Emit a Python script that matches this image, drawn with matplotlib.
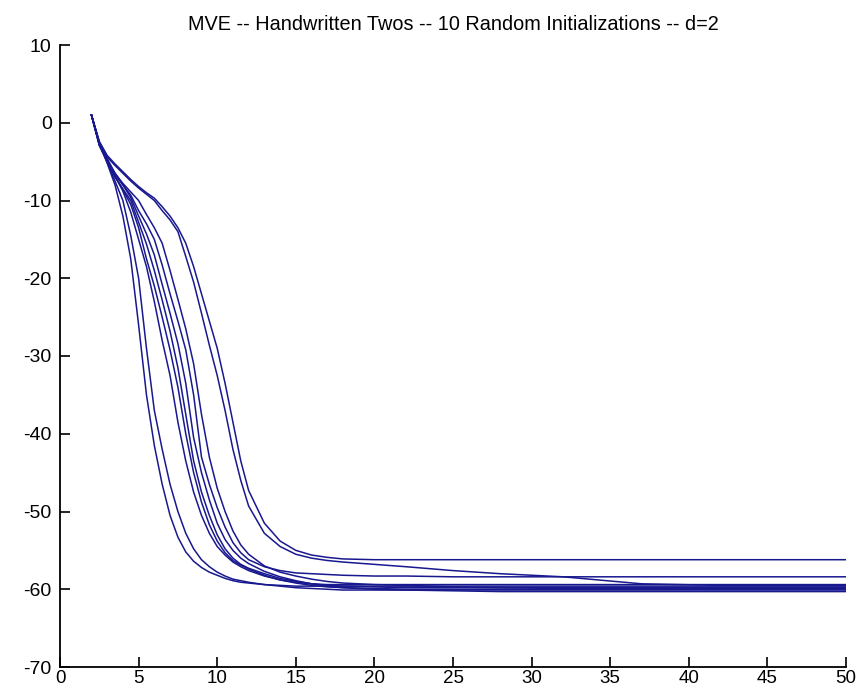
import matplotlib
matplotlib.use("Agg")
import matplotlib.pyplot as plt

title = "MVE -- Handwritten Twos -- 10 Random Initializations -- d=2"

x = [2, 2.5, 3, 3.5, 4, 4.5, 5, 5.5, 6, 6.5, 7, 7.5, 8, 8.5, 9, 9.5, 10, 10.5,
     11, 11.5, 12, 13, 14, 15, 16, 17, 18, 20, 22, 25, 28, 32, 37, 42, 50]

run_a = [1.0, -2.5, -5.2, -8.0, -12.0, -17.5, -26.0, -35.0, -41.5, -46.5, -50.5, -53.3,
         -55.2, -56.4, -57.2, -57.8, -58.2, -58.6, -58.9, -59.1, -59.2, -59.4, -59.5,
         -59.6, -59.6, -59.6, -59.6, -59.6, -59.6, -59.6, -59.6, -59.6, -59.6, -59.6, -59.6]
run_b = [1.0, -2.6, -5.0, -7.5, -10.0, -14.5, -20.0, -29.0, -37.0, -42.0, -46.5, -50.0,
         -52.8, -54.8, -56.2, -57.1, -57.8, -58.3, -58.7, -58.9, -59.1, -59.4, -59.6,
         -59.8, -59.9, -60.0, -60.1, -60.1, -60.1, -60.1, -60.1, -60.1, -60.1, -60.1, -60.1]
run_c = [1.0, -2.7, -4.8, -6.8, -8.8, -11.5, -15.0, -18.5, -23.0, -28.0, -32.5, -38.5,
         -43.5, -47.5, -50.5, -52.8, -54.5, -55.6, -56.5, -57.1, -57.6, -58.3, -58.8,
         -59.1, -59.3, -59.4, -59.4, -59.4, -59.4, -59.4, -59.4, -59.4, -59.4, -59.4, -59.4]
run_d = [1.0, -2.8, -4.9, -6.9, -8.6, -10.5, -13.5, -17.5, -21.0, -25.0, -29.2, -34.0,
         -40.0, -45.0, -48.8, -51.7, -53.8, -55.3, -56.3, -56.9, -57.4, -58.2, -58.8,
         -59.2, -59.5, -59.7, -59.8, -59.9, -60.0, -60.0, -60.0, -60.0, -60.0, -60.0, -60.0]
run_e = [1.0, -2.9, -5.1, -7.0, -8.5, -10.0, -12.8, -15.6, -19.0, -22.8, -26.8, -31.5,
         -37.5, -43.5, -47.5, -50.5, -53.0, -54.8, -56.0, -56.8, -57.3, -58.0, -58.6,
         -59.0, -59.3, -59.5, -59.6, -59.7, -59.8, -59.8, -59.8, -59.8, -59.8, -59.8, -59.8]
run_f = [1.0, -2.7, -4.6, -6.5, -8.0, -9.6, -12.0, -14.3, -17.0, -20.8, -24.5, -28.4,
         -33.5, -40.5, -45.0, -48.5, -51.5, -53.6, -55.0, -56.0, -56.7, -57.7, -58.4,
         -58.9, -59.3, -59.6, -59.8, -60.0, -60.1, -60.2, -60.3, -60.3, -60.3, -60.3, -60.3]
run_g = [1.0, -2.8, -4.8, -6.6, -8.0, -9.3, -11.3, -13.0, -15.0, -18.3, -22.0, -25.5,
         -29.2, -35.0, -43.0, -46.5, -49.5, -52.0, -54.0, -55.3, -56.2, -57.1, -57.6,
         -57.9, -58.0, -58.1, -58.2, -58.3, -58.3, -58.4, -58.4, -58.4, -58.4, -58.4, -58.4]
run_h = [1.0, -2.9, -4.9, -6.5, -7.8, -8.9, -10.0, -11.8, -13.5, -15.5, -19.0, -22.7,
         -26.5, -31.0, -37.5, -43.0, -47.0, -50.0, -52.5, -54.3, -55.5, -57.0, -57.8,
         -58.3, -58.7, -59.0, -59.2, -59.4, -59.5, -59.7, -59.8, -59.9, -59.9, -59.9, -59.9]
run_i = [1.0, -2.5, -4.4, -5.5, -6.5, -7.5, -8.4, -9.2, -10.0, -11.3, -12.5, -14.0,
         -17.2, -20.5, -24.5, -28.6, -32.5, -37.0, -42.0, -46.0, -49.3, -52.8, -54.5,
         -55.5, -56.0, -56.3, -56.5, -56.8, -57.1, -57.6, -58.0, -58.4, -59.3, -59.5, -59.5]
run_j = [1.0, -2.4, -4.2, -5.3, -6.3, -7.3, -8.2, -9.0, -9.7, -10.8, -12.0, -13.5,
         -15.5, -18.5, -22.0, -25.5, -29.0, -33.5, -38.5, -43.5, -47.3, -51.5, -53.8,
         -55.0, -55.6, -55.9, -56.1, -56.2, -56.2, -56.2, -56.2, -56.2, -56.2, -56.2, -56.2]

runs = [run_a, run_b, run_c, run_d, run_e, run_f, run_g, run_h, run_i, run_j]

xticks = [0, 5, 10, 15, 20, 25, 30, 35, 40, 45, 50]
yticks = [-70, -60, -50, -40, -30, -20, -10, 0, 10]

plt.rcParams['font.family'] = ['Liberation Sans', 'DejaVu Sans']
plt.rcParams['axes.unicode_minus'] = False

fig = plt.figure(figsize=(8.67, 6.90), dpi=100)
ax = fig.add_axes([60 / 867, 23 / 690, 786 / 867, 622 / 690])

for r in runs:
    ax.plot(x, r, color='#18188f', linewidth=1.1)

ax.set_xlim(0, 50)
ax.set_ylim(-70, 10)
ax.set_xticks(xticks)
ax.set_yticks(yticks)
ax.tick_params(direction='in', length=7, width=1.2, labelsize=14, colors='black')
ax.tick_params(axis='x', pad=2, labelsize=13.5)
ax.tick_params(axis='y', pad=6)
for side in ['top', 'right']:
    ax.spines[side].set_visible(False)
for side in ['left', 'bottom']:
    ax.spines[side].set_linewidth(1.3)

ax.set_title(title, fontsize=14.3, pad=11)

fig.savefig("out.png", dpi=100)
